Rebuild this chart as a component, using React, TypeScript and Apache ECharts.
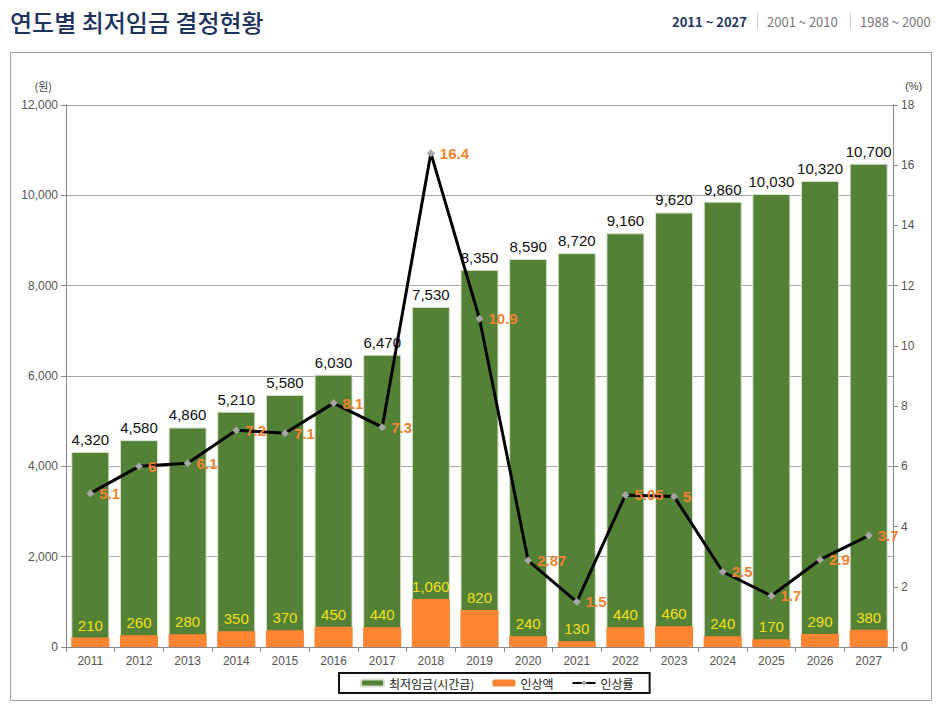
import React, { useRef, useEffect } from 'react'
import * as echarts from 'echarts'

const years = ['2011', '2012', '2013', '2014', '2015', '2016', '2017', '2018', '2019', '2020', '2021', '2022', '2023', '2024', '2025', '2026', '2027']
const minimumWage = [4320, 4580, 4860, 5210, 5580, 6030, 6470, 7530, 8350, 8590, 8720, 9160, 9620, 9860, 10030, 10320, 10700]
const raiseAmount = [210, 260, 280, 350, 370, 450, 440, 1060, 820, 240, 130, 440, 460, 240, 170, 290, 380]
const raiseRate = [5.1, 6, 6.1, 7.2, 7.1, 8.1, 7.3, 16.4, 10.9, 2.87, 1.5, 5.05, 5, 2.5, 1.7, 2.9, 3.7]
const periodLinks = ['2011 ~ 2027', '2001 ~ 2010', '1988 ~ 2000']

const FONT = '"Noto Sans CJK KR", "Liberation Sans", sans-serif'
const NUM_FONT = '"Liberation Sans", Arial, sans-serif'
const fmt = (v: number) => v.toLocaleString('en-US')

export default function App() {
  const containerRef = useRef<HTMLDivElement>(null)

  useEffect(() => {
    if (!containerRef.current) return
    const chart = echarts.init(containerRef.current, null, { renderer: 'svg' })

    const linkX = [672, 767, 860]

    chart.setOption({
      animation: false,
      backgroundColor: '#fff',
      textStyle: { fontFamily: NUM_FONT },
      graphic: [
        {
          type: 'rect',
          shape: { x: 10.5, y: 52.5, width: 921, height: 648 },
          style: { fill: 'none', stroke: '#a0a0a0', lineWidth: 1 },
          z: -10,
        },
        {
          type: 'text',
          x: 10,
          y: 21,
          style: {
            text: '연도별 최저임금 결정현황',
            font: `500 24px ${FONT}`,
            fill: '#1d3461',
            verticalAlign: 'middle',
          },
        },
        ...periodLinks.map((t, i) => ({
          type: 'text',
          x: linkX[i],
          y: 21,
          style: {
            text: t,
            font: `${i === 0 ? 'bold ' : ''}13px ${FONT}`,
            fill: i === 0 ? '#1d3461' : '#777',
            verticalAlign: 'middle',
          },
        })),
        ...[757, 850].map(x => ({
          type: 'line',
          shape: { x1: x + 0.5, y1: 13, x2: x + 0.5, y2: 29 },
          style: { stroke: '#ccc', lineWidth: 1 },
        })),
      ],
      grid: { left: 66, right: 49, top: 105, bottom: 63 },
      legend: {
        left: 339,
        top: 673,
        padding: [4, 16, 4, 21],
        itemGap: 18,
        itemWidth: 23,
        itemHeight: 7,
        borderColor: '#111',
        borderWidth: 2,
        borderRadius: 0,
        textStyle: { fontFamily: FONT, fontSize: 12, color: '#222' },
        data: ['최저임금(시간급)', '인상액', '인상률'],
      },
      xAxis: {
        type: 'category',
        data: years,
        axisLine: { lineStyle: { color: '#888' } },
        axisTick: { show: true, length: 5, lineStyle: { color: '#888' } },
        axisLabel: { color: '#555', fontSize: 12, margin: 8 },
      },
      yAxis: [
        {
          type: 'value',
          min: 0,
          max: 12000,
          interval: 2000,
          name: '(원)',
          nameGap: 14,
          nameTextStyle: { color: '#444', fontSize: 11, align: 'right', padding: [0, 14, 0, 0], fontFamily: FONT },
          axisLine: { show: true, lineStyle: { color: '#888' } },
          axisTick: { show: true, length: 5, lineStyle: { color: '#888' } },
          splitLine: { lineStyle: { color: '#a6a6a6' } },
          axisLabel: { color: '#555', fontSize: 12, margin: 8, formatter: (v: number) => fmt(v) },
        },
        {
          type: 'value',
          min: 0,
          max: 18,
          interval: 2,
          name: '(%)',
          nameGap: 14,
          nameTextStyle: { color: '#444', fontSize: 11, align: 'left', padding: [0, 0, 0, 12] },
          axisLine: { show: true, lineStyle: { color: '#888' } },
          axisTick: { show: true, length: 5, lineStyle: { color: '#888' } },
          splitLine: { show: false },
          axisLabel: { color: '#555', fontSize: 12, margin: 8 },
        },
      ],
      series: [
        {
          name: '최저임금(시간급)',
          type: 'bar',
          data: minimumWage,
          barWidth: 38,
          barGap: '-100%',
          itemStyle: { color: '#538135', borderColor: '#d8e2cf', borderWidth: 1 },
          label: {
            show: true,
            position: 'top',
            distance: 5,
            color: '#111',
            fontSize: 15,
            formatter: (p: { value: number }) => fmt(p.value),
          },
          z: 1,
        },
        {
          name: '인상액',
          type: 'bar',
          data: raiseAmount,
          barWidth: 38,
          barGap: '-100%',
          itemStyle: { color: '#ff8533' },
          label: {
            show: true,
            position: 'top',
            distance: 5,
            color: '#f2e01c',
            fontSize: 15,
            formatter: (p: { value: number }) => fmt(p.value),
          },
          z: 2,
        },
        {
          name: '인상률',
          type: 'line',
          yAxisIndex: 1,
          data: raiseRate,
          symbol: 'diamond',
          symbolSize: 8,
          itemStyle: { color: '#a6a6a6' },
          lineStyle: { color: '#000', width: 3 },
          label: {
            show: true,
            position: 'right',
            distance: 5,
            color: '#f58231',
            fontWeight: 'bold',
            fontSize: 15,
          },
          z: 5,
        },
      ],
    })

    return () => {
      chart.dispose()
    }
  }, [])

  return (
    <div
      ref={containerRef}
      style={{ position: 'fixed', left: 0, top: 0, width: 942, height: 710 }}
    />
  )
}
